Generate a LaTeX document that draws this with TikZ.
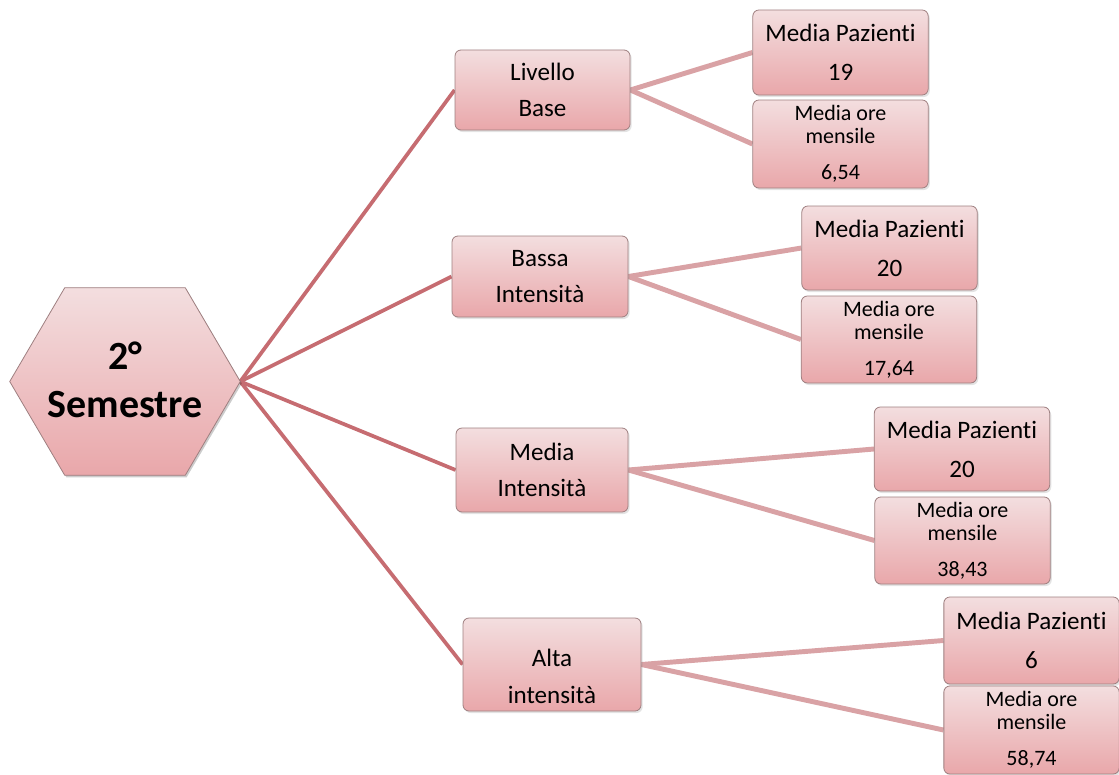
\documentclass[tikz,border=0pt]{standalone}
\usepackage{fontspec}
\setmainfont[Ligatures={NoCommon}]{Carlito}
\usetikzlibrary{shadows,backgrounds}
\definecolor{pinktop}{HTML}{F3DEDF}
\definecolor{pinkbot}{HTML}{E9A7AA}
\definecolor{boxline}{HTML}{9E7F80}
\definecolor{trunk}{HTML}{C66C71}
\definecolor{twig}{HTML}{D9A2A5}
\tikzset{
  card/.style={rectangle, rounded corners=4.5pt, draw=boxline, line width=0.6pt,
    top color=pinktop, bottom color=pinkbot, inner sep=0pt, align=center,
    drop shadow={opacity=0.22, shadow xshift=1.2pt, shadow yshift=-1.5pt}},
  lvl/.style={card, font=\fontsize{18.8}{27}\selectfont},
  pz/.style={card, minimum width=131.5pt, font=\fontsize{18.8}{29.25}\selectfont},
  ore/.style={card, minimum width=131.5pt, font=\fontsize{16.5}{17.5}\selectfont},
  trunkline/.style={draw=trunk, line width=2.8pt},
  twigline/.style={draw=twig, line width=3.7pt},
}
\begin{document}
\begin{tikzpicture}[x=0.75pt, y=-0.75pt]
\useasboundingbox (0,0) rectangle (1119,774);

% central hexagon
\node[minimum width=172.5pt, minimum height=140.25pt, inner sep=0pt] (hex) at (125,381.5) {};
\fill[black, opacity=0.2] ([xshift=1.2pt,yshift=-1.5pt]hex.west)
  -- ([xshift=42.45pt,yshift=-1.5pt]hex.north west) -- ([xshift=-40.2pt,yshift=-1.5pt]hex.north east)
  -- ([xshift=1.2pt,yshift=-1.5pt]hex.east) -- ([xshift=-40.2pt,yshift=-1.5pt]hex.south east)
  -- ([xshift=42.45pt,yshift=-1.5pt]hex.south west) -- cycle;
\draw[draw=boxline, line width=0.6pt, top color=pinktop, bottom color=pinkbot]
  (hex.west) -- ([xshift=41.25pt]hex.north west) -- ([xshift=-41.25pt]hex.north east)
  -- (hex.east) -- ([xshift=-41.25pt]hex.south east) -- ([xshift=41.25pt]hex.south west) -- cycle;
\node[align=center, font=\fontsize{30}{36}\selectfont\bfseries] (hextext) at ([yshift=1pt]hex.center) {2°\\Semestre};

% first level
\node[lvl, minimum width=131.25pt, minimum height=60pt] (base) at (542.5,90) {Livello\\Base};
\node[lvl, minimum width=132pt, minimum height=60.75pt] (bassa) at (540,276.5) {Bassa\\Intensità};
\node[lvl, minimum width=129pt, minimum height=63pt] (media) at (542,470) {Media\\Intensità};
\node[lvl, minimum width=133.5pt, minimum height=69.75pt] (alta) at (552,664.5) {};
\node[font=\fontsize{18.8}{27.75}\selectfont, align=center] (altatext) at (552,676.5) {Alta\\intensità};

% second level
\node[pz, minimum height=63.75pt] (pz1) at (840.5,52.5) {Media Pazienti\\19};
\node[ore, minimum height=66pt] (ore1) at (840.5,144) {Media ore\\mensile\\[9.5pt]6,54};
\node[pz, minimum height=63pt] (pz2) at (889.5,248) {Media Pazienti\\20};
\node[ore, minimum height=65.25pt] (ore2) at (889,339.5) {Media ore\\mensile\\[9.5pt]17,64};
\node[pz, minimum height=63pt] (pz3) at (962,449) {Media Pazienti\\20};
\node[ore, minimum height=65.25pt] (ore3) at (962.5,540.5) {Media ore\\mensile\\[9.5pt]38,43};
\node[pz, minimum height=65.25pt] (pz4) at (1031.5,640.5) {Media Pazienti\\6};
\node[ore, minimum height=66pt] (ore4) at (1031.5,730) {Media ore\\mensile\\[9.5pt]58,74};

% connectors
\begin{scope}[on background layer]
  \foreach \t in {base,bassa,media,alta}
    \path[trunkline] (hex.east) -- (\t.west);
  \path[twigline] (base.east) -- (pz1.west);
  \path[twigline] (base.east) -- (ore1.west);
  \path[twigline] (bassa.east) -- (pz2.west);
  \path[twigline] (bassa.east) -- (ore2.west);
  \path[twigline] (media.east) -- (pz3.west);
  \path[twigline] (media.east) -- (ore3.west);
  \path[twigline] (alta.east) -- (pz4.west);
  \path[twigline] (alta.east) -- (ore4.west);
\end{scope}
\end{tikzpicture}
\end{document}
